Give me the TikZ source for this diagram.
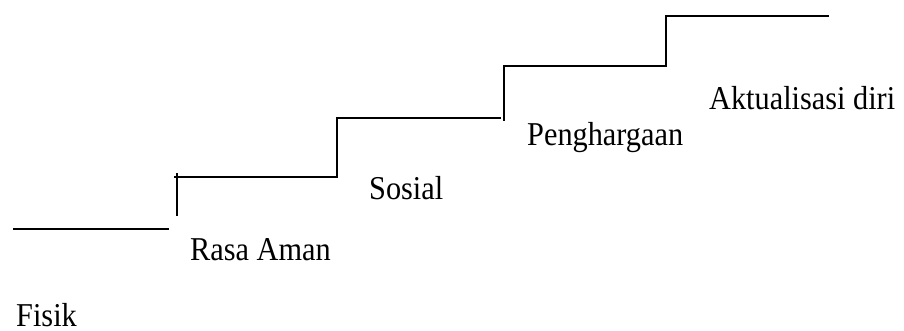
\documentclass[tikz,border=0pt]{standalone}
\usepackage{fontspec}
\usepackage{graphicx}
\setmainfont{Liberation Serif}
\newcommand{\tallword}[1]{\scalebox{1}[1.1]{#1}}
\begin{document}
\begin{tikzpicture}[x=1pt,y=-1pt,
  stair/.style={line width=2.2pt,line cap=rect},
  level/.style={anchor=base west,inner sep=0pt,font=\fontsize{30.3}{36}\selectfont}]
\useasboundingbox (0,0) rectangle (904,331);
% stairs, from the bottom step upward
\draw[stair] (14,229) -- (168,229);
\draw[stair] (177,215) -- (177,174);
\draw[stair] (175,177) -- (337,177) -- (337,118) -- (500,118);
\draw[stair] (504,120) -- (504,66) -- (666,66) -- (666,16) -- (828,16);
% level labels
\node[level] (fisik) at (16,326.5) {\tallword{Fisik}};
\node[level] (aman) at (190,260) {\tallword{Rasa Aman}};
\node[level] (sosial) at (369,200) {\tallword{Sosial}};
\node[level] (harga) at (527,146) {\tallword{Penghargaan}};
\node[level] (aktual) at (709,110) {\tallword{Aktualisasi diri}};
\end{tikzpicture}
\end{document}
